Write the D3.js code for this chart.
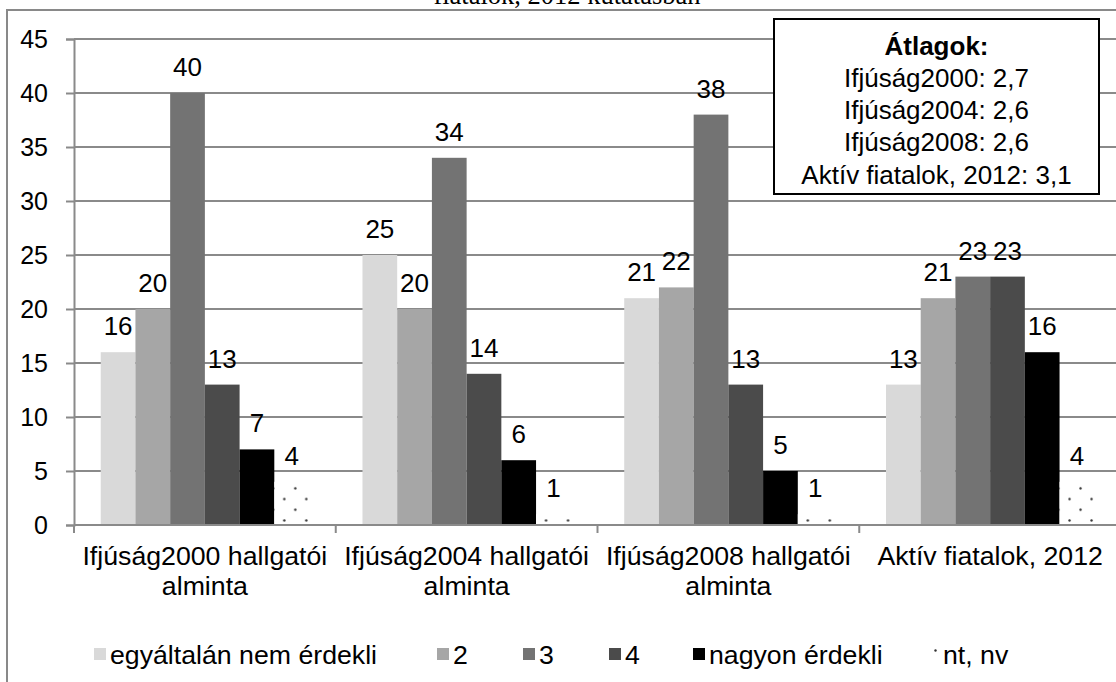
<!DOCTYPE html>
<html lang="hu">
<head>
    <meta charset="UTF-8">
    <title>Érdeklődés</title>
    <script src="https://d3js.org/d3.v7.min.js"></script>
    <style>
        body { margin: 0; background: #fff; }
        text { font-family: "Liberation Sans", Arial, sans-serif; fill: #000; }
    </style>
</head>
<body>

<div id="chart"></div>

<script>
    // categories and series
    var categories = [["Ifjúság2000 hallgatói", "alminta"], ["Ifjúság2004 hallgatói", "alminta"],
                      ["Ifjúság2008 hallgatói", "alminta"], ["Aktív fiatalok, 2012"]];
    var seriesNames = ["egyáltalán nem érdekli", "2", "3", "4", "nagyon érdekli", "nt, nv"];
    // one array per category, in series order
    var ifj2000 = [16, 20, 40, 13, 7, 4];
    var ifj2004 = [25, 20, 34, 14, 6, 1];
    var ifj2008 = [21, 22, 38, 13, 5, 1];
    var aktiv2012 = [13, 21, 23, 23, 16, 4];
    var yTicks = [0, 5, 10, 15, 20, 25, 30, 35, 40, 45];
    var boxTitle = "Átlagok:";
    var boxLines = ["Ifjúság2000: 2,7", "Ifjúság2004: 2,6", "Ifjúság2008: 2,6", "Aktív fiatalok, 2012: 3,1"];
    var titleText = "fiatalok, 2012 kutatásban";

    var values = [ifj2000, ifj2004, ifj2008, aktiv2012];
    var colors = ["#d9d9d9", "#a6a6a6", "#737373", "#4b4b4b", "#000000", "url(#dots)"];

    var W = 1116, H = 682;
    var plotLeft = 74, plotRight = 1121, plotTop = 39, plotBottom = 525;

    var svg = d3.select("#chart").append("svg")
        .attr("width", W)
        .attr("height", H);

    // dotted pattern for "nt, nv"
    var pat = svg.append("defs").append("pattern")
        .attr("id", "dots")
        .attr("patternUnits", "userSpaceOnUse")
        .attr("x", 281.8).attr("y", 483)
        .attr("width", 22).attr("height", 21.4);
    pat.append("rect").attr("width", 22).attr("height", 21.4).attr("fill", "#fff");
    pat.append("circle").attr("cx", 5.5).attr("cy", 5.35).attr("r", 1.2).attr("fill", "#333");
    pat.append("circle").attr("cx", 16.5).attr("cy", 16.05).attr("r", 1.2).attr("fill", "#333");

    // title (cut off at the top of the picture)
    svg.append("text")
        .attr("x", 567).attr("y", 4)
        .attr("text-anchor", "middle")
        .style("font-family", "'Liberation Serif', 'Times New Roman', serif")
        .style("font-size", "26.5px")
        .text(titleText);

    // outer chart frame
    svg.append("rect")
        .attr("x", 7).attr("y", 10)
        .attr("width", 1200).attr("height", 700)
        .attr("fill", "none")
        .attr("stroke", "#898989")
        .attr("stroke-width", 2);

    var x0 = d3.scaleBand()
        .domain(d3.range(categories.length))
        .range([plotLeft, plotRight]);

    var x1 = d3.scaleBand()
        .domain(d3.range(seriesNames.length))
        .range([0, x0.bandwidth()])
        .paddingOuter(0.77);

    var y = d3.scaleLinear()
        .domain([0, 45])
        .range([plotBottom, plotTop]);

    // gridlines
    svg.append("g")
        .selectAll("line")
        .data(yTicks.slice(1))
        .join("line")
        .attr("x1", plotLeft).attr("x2", plotRight)
        .attr("y1", function(d) { return y(d); })
        .attr("y2", function(d) { return y(d); })
        .attr("stroke", "#8a8a8a")
        .attr("stroke-width", 1.8);

    // bars
    var groups = svg.append("g")
        .selectAll("g")
        .data(values)
        .join("g")
        .attr("transform", function(d, i) { return "translate(" + x0(i) + ",0)"; });

    groups.selectAll("rect")
        .data(function(d) { return d; })
        .join("rect")
        .attr("x", function(d, i) { return x1(i); })
        .attr("width", x1.bandwidth())
        .attr("y", function(d) { return y(d); })
        .attr("height", function(d) { return y(0) - y(d); })
        .attr("fill", function(d, i) { return colors[i]; });

    // value labels
    groups.selectAll("text")
        .data(function(d) { return d; })
        .join("text")
        .attr("x", function(d, i) { return x1(i) + x1.bandwidth() / 2; })
        .attr("y", function(d) { return y(d) - 17; })
        .attr("text-anchor", "middle")
        .style("font-size", "26px")
        .text(function(d) { return d; });

    // y axis
    var yAxis = svg.append("g")
        .attr("transform", "translate(" + plotLeft + ",0)")
        .call(d3.axisLeft(y).tickValues(yTicks).tickSize(8).tickPadding(18));
    yAxis.select(".domain").attr("stroke", "#8a8a8a").attr("stroke-width", 2);
    yAxis.selectAll(".tick line").attr("stroke", "#8a8a8a").attr("stroke-width", 2);
    yAxis.selectAll(".tick text")
        .style("font-family", "'Liberation Sans', Arial, sans-serif")
        .style("font-size", "25px")
        .attr("fill", "#000");

    // x axis baseline and category separators
    svg.append("line")
        .attr("x1", plotLeft).attr("x2", plotRight)
        .attr("y1", y(0)).attr("y2", y(0))
        .attr("stroke", "#8a8a8a").attr("stroke-width", 2);
    svg.append("g")
        .selectAll("line")
        .data(d3.range(categories.length + 1))
        .join("line")
        .attr("x1", function(d) { return plotLeft + d * x0.bandwidth(); })
        .attr("x2", function(d) { return plotLeft + d * x0.bandwidth(); })
        .attr("y1", y(0)).attr("y2", y(0) + 8)
        .attr("stroke", "#8a8a8a").attr("stroke-width", 2);

    // category labels
    svg.append("g")
        .selectAll("text")
        .data(categories)
        .join("text")
        .attr("text-anchor", "middle")
        .style("font-size", "26.7px")
        .each(function(d, i) {
            d3.select(this).selectAll("tspan")
                .data(d)
                .join("tspan")
                .attr("x", x0(i) + x0.bandwidth() / 2)
                .attr("y", function(t, j) { return 565 + j * 30; })
                .text(function(t) { return t; });
        });

    // legend
    var legendX = [94, 437, 523, 609, 693, 933];
    var legend = svg.append("g")
        .selectAll("g")
        .data(seriesNames)
        .join("g")
        .attr("transform", function(d, i) { return "translate(" + legendX[i] + ",648)"; });
    legend.append("rect")
        .attr("width", 12).attr("height", 12)
        .attr("fill", function(d, i) { return i < 5 ? colors[i] : "#fff"; });
    legend.filter(function(d, i) { return i === 5; })
        .append("circle")
        .attr("cx", 2.5).attr("cy", 2.5).attr("r", 1.2).attr("fill", "#333");
    legend.append("text")
        .attr("x", function(d, i) { return i === 5 ? 10 : 16; })
        .attr("y", 16)
        .style("font-size", "26.7px")
        .text(function(d) { return d; });

    // averages box
    var box = svg.append("g");
    box.append("rect")
        .attr("x", 774).attr("y", 19)
        .attr("width", 325).attr("height", 175)
        .attr("fill", "#fff")
        .attr("stroke", "#000")
        .attr("stroke-width", 2);
    box.append("text")
        .attr("x", 936.5).attr("y", 55)
        .attr("text-anchor", "middle")
        .style("font-size", "26px")
        .style("font-weight", "bold")
        .text(boxTitle);
    box.selectAll("text.line")
        .data(boxLines)
        .join("text")
        .attr("class", "line")
        .attr("x", 936.5)
        .attr("y", function(d, i) { return 87 + i * 32.2; })
        .attr("text-anchor", "middle")
        .style("font-size", "26px")
        .text(function(d) { return d; });
</script>

</body>
</html>
